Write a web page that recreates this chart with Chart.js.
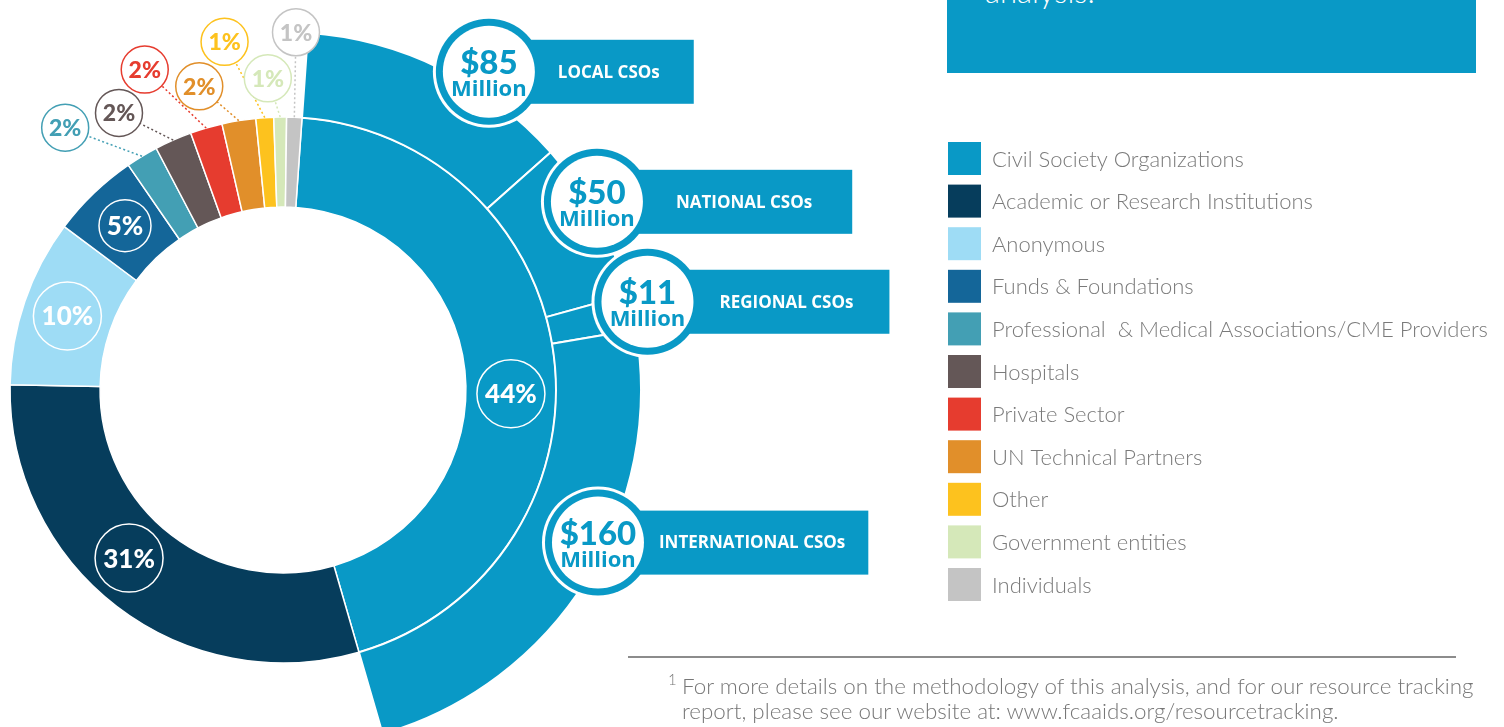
<!DOCTYPE html>
<html>
<head>
<meta charset="utf-8">
<title>Funding by funder type</title>
<script src="https://cdn.jsdelivr.net/npm/chart.js@4.4.1/dist/chart.umd.min.js"></script>
<style>
  html, body { margin: 0; padding: 0; background: #fff; overflow: hidden; }
  #wrap { position: relative; width: 1504px; height: 727px; }
  #chart { position: absolute; left: 0; top: 0; }
  #intro { position: absolute; left: 947px; top: 0; width: 529px; height: 73px; background: #0999c6; overflow: hidden; }
  #intro span { position: absolute; left: 38px; top: -28px; font: 300 31px Lato, sans-serif; color: #fff; }
  #foot { position: absolute; left: 628px; top: 656px; width: 828px; border-top: 2px solid #8c8c8c; }
  #foot p { position: relative; margin: 0; padding: 15px 0 0 54px; font: 300 22.4px/25px Lato, sans-serif; color: #777; white-space: nowrap; }
  #foot sup { position: absolute; left: 40px; top: 9px; font-size: 15px; }
</style>
</head>
<body>
<div id="wrap">
  <canvas id="chart" width="1504" height="727"></canvas>
  <div id="intro"><span>analysis.</span></div>
  <div id="foot"><p><sup>1</sup>For more details on the methodology of this analysis, and for our resource tracking<br>report, please see our website at: www.fcaaids.org/resourcetracking.</p></div>
</div>
<script>
// funder types, share of total funding (%) read from the ring
const categories = [
  'Civil Society Organizations',
  'Academic or Research Institutions',
  'Anonymous',
  'Funds & Foundations',
  'Professional  & Medical Associations/CME Providers',
  'Hospitals',
  'Private Sector',
  'UN Technical Partners',
  'Other',
  'Government entities',
  'Individuals'
];
const shares = [44.4, 29.8, 9.9, 5.2, 1.9, 2.2, 1.9, 2.0, 1.05, 0.75, 0.9];
const shareLabels = ['44%', '31%', '10%', '5%', '2%', '2%', '2%', '2%', '1%', '1%', '1%'];
const colors = ['#0999c6', '#063d5c', '#9edcf5', '#146699', '#439fb4', '#645757',
  '#e63c2f', '#e18f2a', '#fdc21e', '#d5e8b9', '#c4c4c4'];

// civil society split, in US$ millions
const csoTypes = ['LOCAL CSOs', 'NATIONAL CSOs', 'REGIONAL CSOs', 'INTERNATIONAL CSOs'];
const csoMillions = [85, 50, 11, 160];

const totalShare = shares.reduce((a, b) => a + b, 0);
const csoSweep = 360 * shares[0] / totalShare;
const BLUE = '#0999c6';
const deg = Math.PI / 180;

function polar(p, ang, r) {
  return { x: p.x + r * Math.cos(ang), y: p.y + r * Math.sin(ang) };
}

const calloutPlugin = {
  id: 'callouts',
  afterDatasetsDraw(chart, args, opts) {
    const ctx = chart.ctx;
    ctx.save();

    // percent labels on the inner ring
    const inner = chart.getDatasetMeta(1).data;
    inner.forEach((arc, i) => {
      const p = arc.getProps(['x', 'y', 'startAngle', 'endAngle', 'innerRadius', 'outerRadius'], true);
      const mid = (p.startAngle + p.endAngle) / 2;
      if (i < opts.inside.length) {
        const c = polar(p, mid + opts.inside[i].nudge * deg, (p.innerRadius + p.outerRadius) / 2);
        ctx.beginPath();
        ctx.arc(c.x, c.y, opts.inside[i].r, 0, 2 * Math.PI);
        ctx.strokeStyle = '#fff';
        ctx.lineWidth = 1.5;
        ctx.stroke();
        ctx.fillStyle = '#fff';
        ctx.font = '900 26px Lato, sans-serif';
        ctx.textAlign = 'center';
        ctx.textBaseline = 'middle';
        ctx.fillText(shareLabels[i], c.x, c.y + 1);
      } else {
        const o = opts.outside[i - opts.inside.length];
        const c = polar(p, mid + o.nudge * deg, o.dist);
        const a = polar(p, mid, p.outerRadius);
        const len = Math.hypot(c.x - a.x, c.y - a.y);
        const b = { x: c.x + (a.x - c.x) * o.r / len, y: c.y + (a.y - c.y) * o.r / len };
        ctx.beginPath();
        ctx.setLineDash([2, 2.5]);
        ctx.moveTo(a.x, a.y);
        ctx.lineTo(b.x, b.y);
        ctx.strokeStyle = colors[i];
        ctx.lineWidth = 1.5;
        ctx.stroke();
        ctx.setLineDash([]);
        ctx.beginPath();
        ctx.arc(c.x, c.y, o.r, 0, 2 * Math.PI);
        ctx.fillStyle = '#fff';
        ctx.fill();
        ctx.stroke();
        ctx.fillStyle = colors[i];
        ctx.font = '900 23px Lato, sans-serif';
        ctx.textAlign = 'center';
        ctx.textBaseline = 'middle';
        ctx.fillText(shareLabels[i], c.x, c.y + 1);
      }
    });

    // dollar badges on the civil society ring
    const outer = chart.getDatasetMeta(0).data;
    outer.forEach((arc, i) => {
      const p = arc.getProps(['x', 'y', 'startAngle', 'endAngle'], true);
      const b = opts.badges[i];
      const c = polar(p, (p.startAngle + p.endAngle) / 2 + b.nudge * deg, b.dist);
      ctx.font = 'bold 17px "Open Sans", sans-serif';
      const tx = c.x + b.gap;
      const right = tx + ctx.measureText(csoTypes[i]).width + b.pad;
      // white halo, blue tab, white disc
      ctx.fillStyle = '#fff';
      ctx.beginPath();
      ctx.arc(c.x, c.y, 56, 0, 2 * Math.PI);
      ctx.fill();
      ctx.fillRect(c.x, c.y - 35, right - c.x + 3, 70);
      ctx.fillStyle = BLUE;
      ctx.beginPath();
      ctx.arc(c.x, c.y, 53, 0, 2 * Math.PI);
      ctx.fill();
      ctx.fillRect(c.x, c.y - 32, right - c.x, 64);
      ctx.fillStyle = '#fff';
      ctx.beginPath();
      ctx.arc(c.x, c.y, 46, 0, 2 * Math.PI);
      ctx.fill();
      ctx.textAlign = 'left';
      ctx.textBaseline = 'middle';
      ctx.fillText(csoTypes[i], tx, c.y + 1);
      ctx.fillStyle = BLUE;
      ctx.textAlign = 'center';
      ctx.textBaseline = 'alphabetic';
      ctx.font = '900 33px Lato, sans-serif';
      ctx.fillText('$' + csoMillions[i], c.x, c.y + 2);
      ctx.font = 'bold 22px "Open Sans", sans-serif';
      ctx.fillText('Million', c.x, c.y + 24);
    });
    ctx.restore();
  },
  afterDraw(chart, args, opts) {
    const ctx = chart.ctx;
    const lg = opts.legend;
    ctx.save();
    ctx.font = '300 22px Lato, sans-serif';
    ctx.textAlign = 'left';
    ctx.textBaseline = 'middle';
    categories.forEach((name, i) => {
      const y = lg.top + i * lg.step;
      ctx.fillStyle = colors[i];
      ctx.fillRect(lg.left, y, lg.box, lg.box);
      ctx.fillStyle = '#7a7a7a';
      ctx.fillText(name, lg.left + lg.box + 11, y + lg.box / 2 + 1);
    });
    ctx.restore();
  }
};

new Chart(document.getElementById('chart'), {
  type: 'doughnut',
  data: {
    labels: categories,
    datasets: [
      {
        label: 'Civil society funding (US$ millions)',
        data: csoMillions,
        backgroundColor: BLUE,
        borderColor: '#fff',
        borderWidth: 2,
        weight: 85,
        rotation: 4,
        circumference: csoSweep,
        clip: false
      },
      {
        label: 'Share of funding (%)',
        data: shares,
        backgroundColor: colors,
        borderColor: '#fff',
        borderWidth: 1.5,
        weight: 90,
        rotation: 4,
        clip: false
      }
    ]
  },
  options: {
    responsive: false,
    animation: false,
    radius: 358,
    cutout: '51.1%',
    layout: { padding: { left: 0, top: 53, right: 938, bottom: 0 } },
    plugins: {
      legend: { display: false },
      tooltip: { enabled: false },
      callouts: {
        inside: [{ nudge: 7, r: 34 }, { nudge: 5, r: 34 }, { nudge: 0, r: 34 }, { nudge: 0, r: 26 }],
        outside: [
          { nudge: -8.6, dist: 341, r: 23.5 },
          { nudge: -6.9, dist: 322, r: 23.5 },
          { nudge: -7.0, dist: 349, r: 23.5 },
          { nudge: -6.1, dist: 315, r: 23.5 },
          { nudge: -5.7, dist: 353, r: 23.5 },
          { nudge: -2.2, dist: 312, r: 23.5 },
          { nudge: -0.3, dist: 358, r: 23.5 }
        ],
        badges: [
          { nudge: 6.7, dist: 379, gap: 69, pad: 34 },
          { nudge: -2.4, dist: 366, gap: 79, pad: 40 },
          { nudge: -1.0, dist: 375, gap: 72, pad: 36 },
          { nudge: -6.2, dist: 350, gap: 61, pad: 23 }
        ],
        legend: { left: 948, top: 142, step: 42.6, box: 33 }
      }
    }
  },
  plugins: [calloutPlugin]
});
</script>
</body>
</html>
